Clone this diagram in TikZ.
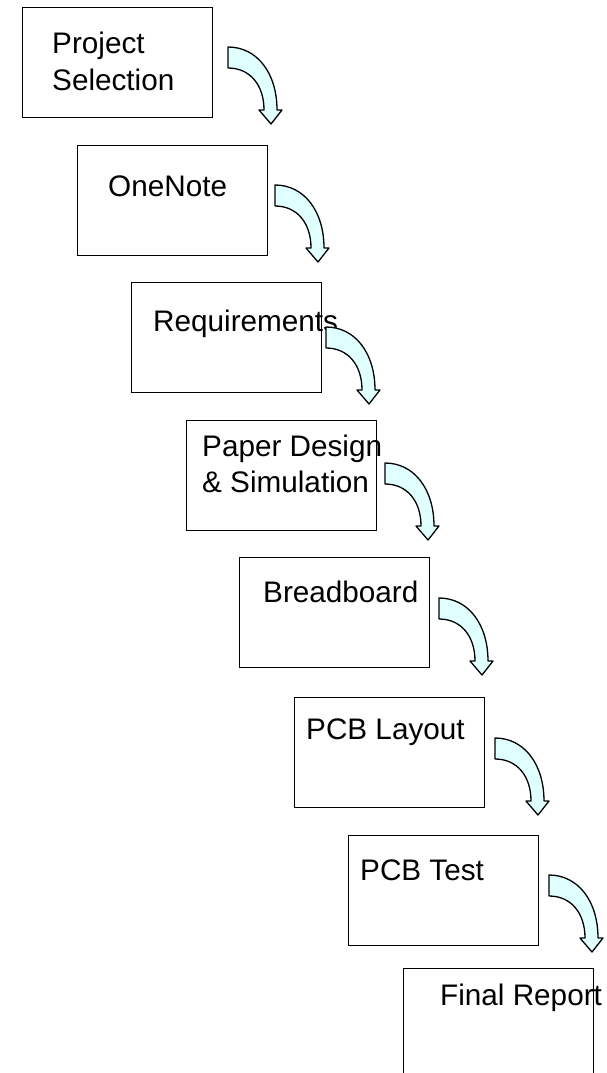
\documentclass[tikz,border=0pt]{standalone}
\usepackage{fontspec}
\setmainfont{Liberation Sans}
\usetikzlibrary{calc}
\definecolor{arrowfill}{RGB}{224,255,255}
\begin{document}
\begin{tikzpicture}[x=1pt,y=-1pt]
\tikzstyle{stage}= [rectangle,draw,line width=1.2pt,minimum width=190pt,minimum height=110pt,anchor=north west,inner sep=0pt]
\tikzstyle{lbl}= [anchor=base west,align=left,inner sep=0pt,font=\fontsize{29.7}{36}\selectfont]
\tikzstyle{curvarrow}= [draw,line width=1.3pt,fill=arrowfill,line join=round]
\clip (0,0) rectangle (606,1073);
\path
	( 22,  7) node[stage] (sel) {}
	( 77,145) node[stage] (one) {}
	(131,282) node[stage] (req) {}
	(186,420) node[stage] (pap) {}
	(239,557) node[stage] (brd) {}
	(294,697) node[stage] (lay) {}
	(348,835) node[stage] (tst) {}
	(403,968) node[stage] (fin) {}
;
\path
	($(sel.north west)+(30,83)$) node[lbl] (selt) {Project\\Selection}
	($(one.north west)+(31,51)$) node[lbl] (onet) {OneNote}
	($(req.north west)+(22,49)$) node[lbl] (reqt) {Requirements}
	($(pap.north west)+(16,72)$) node[lbl] (papt) {Paper Design\\\& Simulation}
	($(brd.north west)+(24,45)$) node[lbl] (brdt) {Breadboard}
	($(lay.north west)+(12,42)$) node[lbl] (layt) {PCB Layout}
	($(tst.north west)+(12,45)$) node[lbl] (tstt) {PCB Test}
	($(fin.north west)+(37,37)$) node[lbl] (fint) {Final Report}
;
% curved block arrows between the stages
\foreach \ax/\ay in {228/47,275/185,326/327,385/463,439/598,495/738,549/875}
	\draw[curvarrow,shift={(\ax,\ay)}] (0,0) .. controls (29,0) and (49,26) .. (49,63)
		-- (54,63) -- (43,77) -- (31,63) -- (36,63)
		.. controls (36,38) and (22,21) .. (0,21) -- cycle;
\end{tikzpicture}
\end{document}
